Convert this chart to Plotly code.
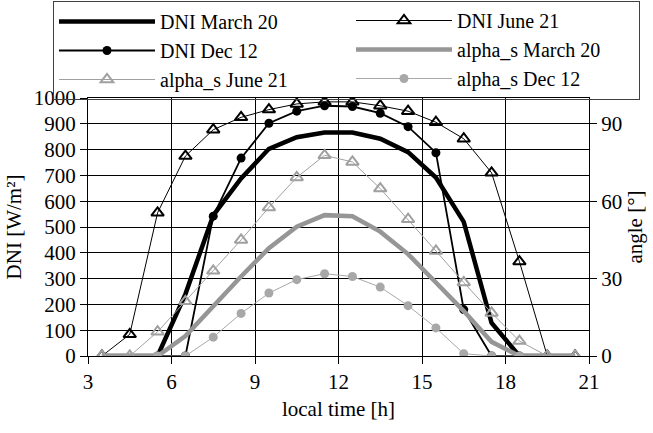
import plotly.graph_objects as go

hours = [3.5, 4.5, 5.5, 6.5, 7.5, 8.5, 9.5, 10.5, 11.5, 12.5, 13.5, 14.5, 15.5, 16.5, 17.5, 18.5, 19.5, 20.5]

dni_march = [0, 0, 0, 240, 545, 688, 803, 848, 866, 866, 842, 790, 692, 520, 128, 0, 0, 0]
dni_june = [0, 84, 555, 775, 877, 925, 955, 977, 985, 985, 970, 949, 906, 842, 710, 366, 0, 0]
dni_dec = [None, None, 0, 0, 542, 767, 902, 949, 970, 967, 941, 889, 788, 180, 0, 0, None, None]

alpha_march = [0, 0, 0, 7.7, 19.3, 30.8, 41.8, 50.1, 54.6, 54.2, 48.2, 39.5, 28.5, 17.4, 5.5, 0, 0, 0]
alpha_june = [0, 0, 9.4, 21.2, 33, 45, 57.6, 69.2, 77.8, 75.2, 64.9, 53, 40.7, 28.5, 16.7, 5.8, 0, 0]
alpha_dec = [None, None, 0, 0, 7.3, 16.5, 24.4, 29.6, 31.9, 30.8, 26.7, 19.5, 10.9, 0.9, 0, 0, None, None]

x_ticks = [3, 6, 9, 12, 15, 18, 21]
y_ticks = list(range(0, 1001, 100))
y2_ticks = [0, 30, 60, 90]

FONT = "Liberation Serif"
FS = 21
BLACK = "#000000"
GREY = "#969696"
GREY2 = "#a0a0a0"
GREY3 = "#a8a8a8"

fig = go.Figure()
fig.add_trace(go.Scatter(x=hours, y=dni_march, name="DNI March 20", mode="lines",
                         legend="legend",
                         line=dict(color=BLACK, width=4.5)))
fig.add_trace(go.Scatter(x=hours, y=dni_june, name="DNI June 21", mode="lines+markers",
                         legend="legend2",
                         line=dict(color=BLACK, width=1),
                         marker=dict(symbol="triangle-up-open", size=11, color=BLACK,
                                     line=dict(width=2, color=BLACK))))
fig.add_trace(go.Scatter(x=hours, y=dni_dec, name="DNI Dec 12", mode="lines+markers",
                         legend="legend",
                         line=dict(color=BLACK, width=1.8),
                         marker=dict(symbol="circle", size=9, color=BLACK)))
fig.add_trace(go.Scatter(x=hours, y=alpha_march, name="alpha_s March 20", mode="lines",
                         legend="legend2",
                         yaxis="y2", line=dict(color=GREY, width=4.5)))
fig.add_trace(go.Scatter(x=hours, y=alpha_june, name="alpha_s June 21", mode="lines+markers",
                         legend="legend",
                         yaxis="y2", line=dict(color=GREY2, width=1),
                         marker=dict(symbol="triangle-up-open", size=11, color=GREY2,
                                     line=dict(width=2, color=GREY2))))
fig.add_trace(go.Scatter(x=hours, y=alpha_dec, name="alpha_s Dec 12", mode="lines+markers",
                         legend="legend2",
                         yaxis="y2", line=dict(color=GREY3, width=1),
                         marker=dict(symbol="circle", size=9, color=GREY3)))

LEG_Y = (356 - 1) / 258
fig.update_layout(
    width=653, height=433,
    margin=dict(l=88, r=64, t=98, b=77, autoexpand=False),
    paper_bgcolor="white", plot_bgcolor="white",
    font=dict(family=FONT, size=FS, color=BLACK),
    showlegend=True,
    legend=dict(
        orientation="h", xref="paper", yref="paper",
        x=(53 - 88) / 501, y=LEG_Y, xanchor="left", yanchor="top",
        entrywidth=474, entrywidthmode="pixels", itemwidth=96,
        bordercolor="#404040", borderwidth=1, bgcolor="rgba(255,255,255,0)",
        font=dict(family=FONT, size=20, color=BLACK),
        tracegroupgap=0,
    ),
    legend2=dict(
        orientation="v", xref="paper", yref="paper",
        x=(351 - 88) / 501, y=LEG_Y, xanchor="left", yanchor="top",
        itemwidth=96,
        borderwidth=0, bgcolor="rgba(0,0,0,0)",
        font=dict(family=FONT, size=20, color=BLACK),
        tracegroupgap=0,
    ),
    xaxis=dict(
        range=[3, 21], tickvals=x_ticks, ticktext=[str(v) for v in x_ticks],
        showgrid=True, gridcolor=BLACK, gridwidth=1,
        showline=True, linecolor=BLACK, linewidth=1, mirror=True,
        ticks="outside", ticklen=7, tickcolor=BLACK,
        zeroline=False,
        title=dict(text="local time [h]", font=dict(family=FONT, size=FS), standoff=8),
    ),
    yaxis=dict(
        range=[0, 1000], tickvals=y_ticks,
        showgrid=True, gridcolor=BLACK, gridwidth=1,
        showline=True, linecolor=BLACK, linewidth=1, mirror=True,
        ticks="outside", ticklen=7, tickcolor=BLACK,
        zeroline=False,
        title=dict(text="DNI [W/m²]", font=dict(family=FONT, size=FS), standoff=6),
    ),
    yaxis2=dict(
        range=[0, 100], tickvals=y2_ticks, overlaying="y", side="right",
        showgrid=False, showline=True, linecolor=BLACK, linewidth=1,
        ticks="outside", ticklen=7, tickcolor=BLACK,
        zeroline=False,
        title=dict(text="angle [°]", font=dict(family=FONT, size=FS), standoff=6),
    ),
)

fig.write_html("out.html")
